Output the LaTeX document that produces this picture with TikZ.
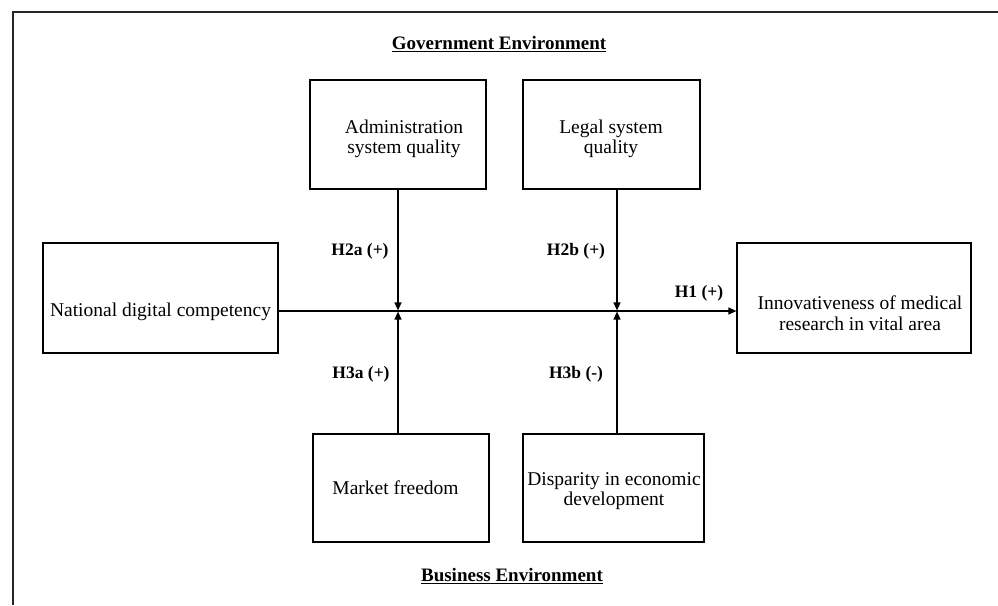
\documentclass[tikz,border=0pt]{standalone}
\usepackage{fontspec}
\setmainfont{Liberation Serif}
\usetikzlibrary{arrows.meta}
\begin{document}
\begin{tikzpicture}[x=1pt,y=-1pt,
 box/.style={draw, line width=1.3pt, inner sep=0pt, outer sep=0pt},
 txt/.style={align=center, font=\fontsize{19.5}{20.5}\selectfont, inner sep=0pt},
 lab/.style={font=\fontsize{17.5}{20}\selectfont\bfseries, inner sep=0pt},
 head/.style={font=\fontsize{19}{20}\selectfont\bfseries, inner sep=0pt},
 arr/.style={line width=1.3pt, -{Triangle[length=8pt,width=7pt]}, shorten >=0.6pt}]
\useasboundingbox (0,0) rectangle (998,605);
\draw[line width=2pt, black!85] (13,605) -- (13,12) -- (998,12);
% boxes
\node[box, minimum width=176pt, minimum height=109pt] (adm) at (398,134.5) {};
\node[box, minimum width=177pt, minimum height=109pt] (leg) at (611.5,134.5) {};
\node[box, minimum width=235pt, minimum height=110pt] (nat) at (160.5,298) {};
\node[box, minimum width=234pt, minimum height=110pt] (inn) at (854,298) {};
\node[box, minimum width=176pt, minimum height=108pt] (mkt) at (401,488) {};
\node[box, minimum width=181pt, minimum height=108pt] (dis) at (613.5,488) {};
% box texts
\node[txt] (admt) at (404,139) {Administration\\system quality};
\node[txt] (legt) at (611,139) {Legal system\\quality};
\node[txt, anchor=base] (natt) at (160.5,316) {National digital competency};
\node[txt] (innt) at (860,313) {Innovativeness of medical\\research in vital area};
\node[txt] (mktt) at (395.5,488) {Market freedom};
\node[txt] (dist) at (614,491) {Disparity in economic\\development};
% headings
\node[head] (gov) at (499,44) {\underline{Government Environment}};
\node[head] (bus) at (512,576) {\underline{Business Environment}};
% labels
\node[lab] (h2a) at (360,251) {H2a (+)};
\node[lab] (h2b) at (576,251) {H2b (+)};
\node[lab] (h3a) at (361,374) {H3a (+)};
\node[lab] (h3b) at (576,374) {H3b (-)};
\node[lab] (h1) at (699,293) {H1 (+)};
% connectors
\coordinate (j1) at (398,311);
\coordinate (j2) at (617,311);
\draw[arr] (nat.east |- j1) -- (inn.west |- j1);
\draw[arr] (adm.south -| j1) -- (j1);
\draw[arr] (mkt.north -| j1) -- (j1);
\draw[arr] (leg.south -| j2) -- (j2);
\draw[arr] (dis.north -| j2) -- (j2);
\end{tikzpicture}
\end{document}
